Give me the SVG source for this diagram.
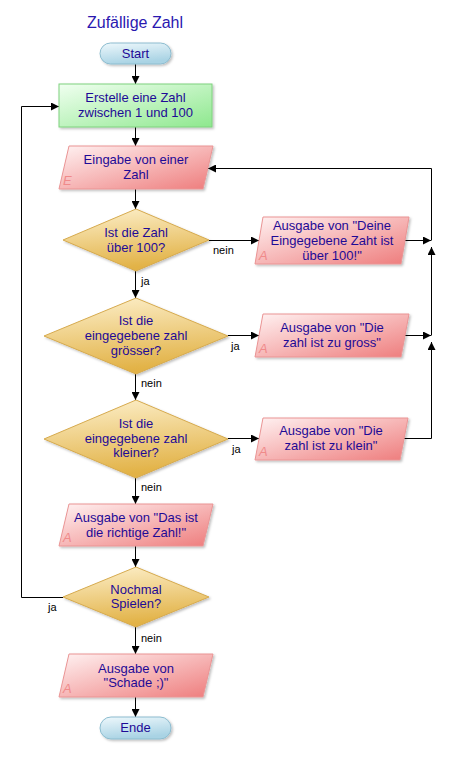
<svg xmlns="http://www.w3.org/2000/svg" width="451" height="758" viewBox="0 0 451 758">
<defs>
<linearGradient id="gTerm" x1="0" y1="0" x2="0.3" y2="1"><stop offset="0" stop-color="#eef8fc"/><stop offset="1" stop-color="#a9d3e4"/></linearGradient>
<linearGradient id="gProc" x1="0" y1="0" x2="1" y2="1"><stop offset="0" stop-color="#f0fff0"/><stop offset="1" stop-color="#8ee88e"/></linearGradient>
<linearGradient id="gIO" x1="0" y1="0" x2="1" y2="1"><stop offset="0" stop-color="#fff2f2"/><stop offset="1" stop-color="#ee7c7c"/></linearGradient>
<linearGradient id="gDec" x1="0" y1="0" x2="0.2" y2="1"><stop offset="0" stop-color="#fdf0cc"/><stop offset="1" stop-color="#e2b246"/></linearGradient>
<filter id="sh" x="-10%" y="-10%" width="130%" height="140%"><feDropShadow dx="1.5" dy="1.5" stdDeviation="0.8" flood-color="#000" flood-opacity="0.25"/></filter>
<marker id="arr" viewBox="0 0 10 10" refX="10" refY="5" markerWidth="8" markerHeight="8" markerUnits="userSpaceOnUse" orient="auto"><path d="M0,0 L10,5 L0,10 z" fill="#000"/></marker>
</defs>
<style>
.t{font-family:"Liberation Sans",Arial,sans-serif;font-size:13px;fill:#1e0a96;text-anchor:middle}
.title{font-family:"Liberation Sans",Arial,sans-serif;font-size:16px;fill:#2a18b0;text-anchor:middle}
.lbl{font-family:"Liberation Sans",Arial,sans-serif;font-size:11px;fill:#000}
.io-mark{font-family:"Liberation Sans",Arial,sans-serif;font-size:13px;font-style:italic;fill:#f08a8a}
.term{fill:url(#gTerm);stroke:#8cbccf;stroke-width:1;filter:url(#sh)}
.proc{fill:url(#gProc);stroke:#7ed27e;stroke-width:1;filter:url(#sh)}
.io{fill:url(#gIO);stroke:#ea9494;stroke-width:1;filter:url(#sh)}
.dec{fill:url(#gDec);stroke:#d6aa4e;stroke-width:1;filter:url(#sh)}
.c{fill:none;stroke:#000;stroke-width:1}
.ca{fill:none;stroke:#000;stroke-width:1;marker-end:url(#arr)}
</style>

<text class="title" x="135" y="28">Zufällige Zahl</text>

<g id="connectors">
<path class="ca" d="M135.5,64 V84"/>
<path class="ca" d="M135.5,127 V146"/>
<path class="ca" d="M135.5,189 V209"/>
<path class="ca" d="M209,240.5 H259"/>
<path class="ca" d="M135.5,271 V298"/>
<path class="ca" d="M228,335.5 H259"/>
<path class="ca" d="M135.5,374 V400"/>
<path class="ca" d="M228,438.5 H259"/>
<path class="ca" d="M135.5,478 V504"/>
<path class="ca" d="M135.5,546 V567"/>
<path class="ca" d="M135.5,627 V654"/>
<path class="ca" d="M135.5,697 V717"/>
<path class="ca" d="M63,597.5 H21.5 V106.5 H59"/>
<path class="ca" d="M405,240.5 H431"/>
<path class="ca" d="M405,335.5 H431"/>
<path class="ca" d="M404,438.5 H431.5 V342"/>
<path class="ca" d="M431.5,335.5 V247"/>
<path class="ca" d="M431.5,240.5 V168.5 H208"/>
<text class="lbl" x="213" y="254">nein</text>
<text class="lbl" x="141" y="285">ja</text>
<text class="lbl" x="231" y="350">ja</text>
<text class="lbl" x="141" y="387">nein</text>
<text class="lbl" x="232" y="453">ja</text>
<text class="lbl" x="141" y="491">nein</text>
<text class="lbl" x="48" y="611">ja</text>
<text class="lbl" x="141" y="642">nein</text>
</g>

<g id="start">
<rect class="term" x="100" y="43" width="71" height="21" rx="10.5"/>
<text class="t" x="135.5" y="58">Start</text>
</g>

<g id="create">
<rect class="proc" x="59" y="84" width="153" height="43"/>
<text class="t" x="135.5" y="102">Erstelle eine Zahl</text>
<text class="t" x="135.5" y="117">zwischen 1 und 100</text>
</g>

<g id="input">
<polygon class="io" points="69,146 213,146 203,189 59,189"/>
<text class="io-mark" x="63" y="185">E</text>
<text class="t" x="136" y="164">Eingabe von einer</text>
<text class="t" x="136" y="179">Zahl</text>
</g>

<g id="dec1">
<polygon class="dec" points="136,209 209,240 136,271 63,240"/>
<text class="t" x="136" y="237">Ist die Zahl</text>
<text class="t" x="136" y="252">über 100?</text>
</g>

<g id="out1">
<polygon class="io" points="263,217 409,217 401,264 255,264"/>
<text class="io-mark" x="259" y="260">A</text>
<text class="t" x="332" y="230">Ausgabe von "Deine</text>
<text class="t" x="332" y="245">Eingegebene Zaht ist</text>
<text class="t" x="332" y="259.5">über 100!"</text>
</g>

<g id="dec2">
<polygon class="dec" points="136,298 228,336 136,374 44,336"/>
<text class="t" x="136" y="325">Ist die</text>
<text class="t" x="136" y="340">eingegebene zahl</text>
<text class="t" x="136" y="355">grösser?</text>
</g>

<g id="out2">
<polygon class="io" points="263,314 409,314 401,357 255,357"/>
<text class="io-mark" x="259" y="353">A</text>
<text class="t" x="332" y="332">Ausgabe von "Die</text>
<text class="t" x="332" y="347">zahl ist zu gross"</text>
</g>

<g id="dec3">
<polygon class="dec" points="136,400 228,439 136,478 44,439"/>
<text class="t" x="136" y="428">Ist die</text>
<text class="t" x="136" y="443">eingegebene zahl</text>
<text class="t" x="136" y="457">kleiner?</text>
</g>

<g id="out3">
<polygon class="io" points="263,418 408,418 400,460 255,460"/>
<text class="io-mark" x="259" y="456">A</text>
<text class="t" x="331" y="435">Ausgabe von "Die</text>
<text class="t" x="331" y="450">zahl ist zu klein"</text>
</g>

<g id="outRight">
<polygon class="io" points="69,504 213,504 203,546 59,546"/>
<text class="io-mark" x="63" y="542">A</text>
<text class="t" x="136" y="522">Ausgabe von "Das ist</text>
<text class="t" x="136" y="537">die richtige Zahl!"</text>
</g>

<g id="dec4">
<polygon class="dec" points="136,567 209,597 136,627 63,597"/>
<text class="t" x="136" y="594">Nochmal</text>
<text class="t" x="136" y="608">Spielen?</text>
</g>

<g id="outSchade">
<polygon class="io" points="69,654 213,654 203,697 59,697"/>
<text class="io-mark" x="63" y="693">A</text>
<text class="t" x="136" y="673">Ausgabe von</text>
<text class="t" x="136" y="687">"Schade ;)"</text>
</g>

<g id="end">
<rect class="term" x="100" y="717" width="71" height="22" rx="11"/>
<text class="t" x="135.5" y="732">Ende</text>
</g>
</svg>
